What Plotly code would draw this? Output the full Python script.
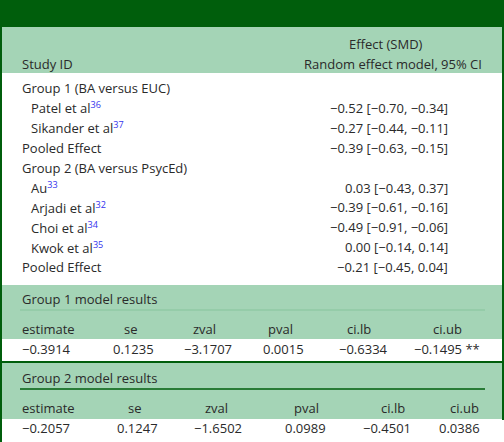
import plotly.graph_objects as go

study_labels = ["Group 1 (BA versus EUC)", "Patel et al", "Sikander et al", "Pooled Effect",
                "Group 2 (BA versus PsycEd)", "Au", "Arjadi et al", "Choi et al", "Kwok et al", "Pooled Effect"]
study_refs = ["", "36", "37", "", "", "33", "32", "34", "35", ""]
study_indent = [0, 1, 1, 0, 0, 1, 1, 1, 1, 0]
effects = ["", "−0.52 [−0.70, −0.34]", "−0.27 [−0.44, −0.11]", "−0.39 [−0.63, −0.15]", "",
           "0.03 [−0.43, 0.37]", "−0.39 [−0.61, −0.16]", "−0.49 [−0.91, −0.06]", "0.00 [−0.14, 0.14]",
           "−0.21 [−0.45, 0.04]"]
model_cols = ["estimate", "se", "zval", "pval", "ci.lb", "ci.ub"]
group1_vals = ["−0.3914", "0.1235", "−3.1707", "0.0015", "−0.6334", "−0.1495 **"]
group2_vals = ["−0.2057", "0.1247", "−1.6502", "0.0989", "−0.4501", "0.0386"]

DARK = "#005e0c"
LIGHT = "#a4d4b6"
TXT = "#2a2a2a"
FONT = "Open Sans"
FS = 13

fig = go.Figure()
shapes = []
ann = []

def rect(x0, y0, x1, y1, color):
    shapes.append(dict(type="rect", xref="x", yref="y", x0=x0, x1=x1, y0=y0, y1=y1,
                       fillcolor=color, line=dict(width=0), layer="below"))

def line(x0, y0, x1, y1, color, w=1):
    shapes.append(dict(type="line", xref="x", yref="y", x0=x0, x1=x1, y0=y0, y1=y1,
                       line=dict(color=color, width=w)))

def text(x, y, s, anchor="left"):
    ann.append(dict(x=x, y=y, xref="x", yref="y", text=s, showarrow=False, xanchor=anchor,
                    yanchor="middle", font=dict(family=FONT, size=FS, color=TXT)))

rect(0, 0, 504, 27, DARK)
rect(2, 27, 502, 73, LIGHT)
rect(2, 285, 502, 339, LIGHT)
rect(2, 362, 502, 419, LIGHT)
line(1, 0, 1, 442, DARK, 2)
line(503, 0, 503, 420, DARK, 2)
line(2, 362, 502, 362, DARK, 2)
line(20, 310, 485, 310, "#86c49c", 1)
line(20, 389, 485, 389, DARK, 1.5)

text(386, 44, "Effect (SMD)", "center")
text(484, 64, "Random effect model, 95% CI", "right")
text(20, 64, "Study ID")

for i, (lab, ref, ind, eff) in enumerate(zip(study_labels, study_refs, study_indent, effects)):
    y = 88 + i * 19.9
    s = lab
    if ref:
        s += "<sup><span style='color:#3333ee'>" + ref + "</span></sup>"
    text(20 + 9 * ind, y, s)
    if eff:
        text(450, y, eff, "right")

text(20, 299, "Group 1 model results")
text(20, 378, "Group 2 model results")

g1_hdr_x = [20, 131, 204, 280, 359, 447]
g1_val_x = [20, 133, 208, 283, 363, 482]
g2_hdr_x = [20, 135, 216, 306, 393, 481]
g2_val_x = [20, 137, 218, 305, 387, 482]

for j, c in enumerate(model_cols):
    a = "left" if j == 0 else "center"
    text(g1_hdr_x[j], 329, c, a)
    text(g1_val_x[j], 349, group1_vals[j], "left" if j == 0 else ("right" if j == 5 else "center"))
    text(g2_hdr_x[j], 408, c, "left" if j == 0 else ("right" if j == 5 else "center"))
    text(g2_val_x[j], 428, group2_vals[j], "left" if j == 0 else ("right" if j == 5 else "center"))

fig.update_layout(width=504, height=442, margin=dict(l=0, r=0, t=0, b=0),
                  paper_bgcolor="white", plot_bgcolor="white",
                  xaxis=dict(range=[0, 504], visible=False, fixedrange=True),
                  yaxis=dict(range=[442, 0], visible=False, fixedrange=True),
                  shapes=shapes, annotations=ann, showlegend=False)
fig.write_html("out.html", config={"displayModeBar": False},
               post_script="document.body.style.margin='0';document.body.style.overflow='hidden';")
